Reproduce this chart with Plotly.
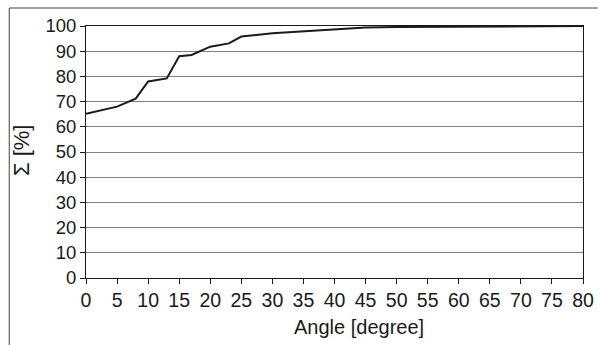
import plotly.graph_objects as go

angle = [0, 5, 8, 10, 13, 15, 17, 18.3, 20, 23, 25, 30, 35, 40, 45, 50, 55, 60, 65, 70, 75, 80]
cum_pct = [65.2, 68, 71.2, 78, 79.2, 88, 88.5, 89.8, 91.8, 93.1, 95.8, 97.1, 97.9, 98.7, 99.4, 99.6, 99.7, 99.8, 99.9, 100, 100, 100]
x_ticks = list(range(0, 81, 5))
y_ticks = list(range(0, 101, 10))

W, H = 606, 345
L, R, T, B = 86, 15, 26, 67
pw, ph = W - L - R, H - T - B

def px(x):
    return (x - L) / pw

def py(y):
    return (H - B - y) / ph

fam = "Liberation Sans, Arial, sans-serif"
col = "#1a1a1a"
xfont = dict(family=fam, size=19.5, color=col)
yfont = dict(family=fam, size=18.5, color=col)
tfont = dict(family=fam, size=20, color=col)
ytfont = dict(family=fam, size=22, color=col)

fig = go.Figure(go.Scatter(x=angle, y=cum_pct, mode="lines",
                           line=dict(color=col, width=2)))

fig.update_layout(
    width=W, height=H, margin=dict(l=L, r=R, t=T, b=B),
    paper_bgcolor="white", plot_bgcolor="white", showlegend=False,
    font=tfont,
    xaxis=dict(range=[0, 80], tickvals=x_ticks, showgrid=False, zeroline=False,
               showline=True, linecolor=col, linewidth=1, mirror=True,
               ticks="outside", ticklen=5, tickcolor=col, tickfont=xfont),
    yaxis=dict(range=[0, 100], tickvals=y_ticks, showgrid=True, gridcolor="#808080",
               gridwidth=1, zeroline=False,
               showline=True, linecolor=col, linewidth=1, mirror=True,
               ticks="outside", ticklen=5, tickcolor=col, tickfont=yfont),
    annotations=[
        dict(text="Angle [degree]", xref="paper", yref="paper", x=px(363), y=py(327),
             showarrow=False, font=tfont, xanchor="center", yanchor="middle"),
        dict(text="Σ [%]", xref="paper", yref="paper", x=px(20), y=py(150),
             showarrow=False, font=ytfont, textangle=-90, xanchor="center", yanchor="middle"),
    ],
    shapes=[
        dict(type="line", xref="paper", yref="paper", x0=px(8), x1=px(606), y0=py(8), y1=py(8),
             line=dict(color="#404040", width=1)),
        dict(type="line", xref="paper", yref="paper", x0=px(8), x1=px(8), y0=py(8), y1=py(345),
             line=dict(color="#404040", width=1)),
    ],
)

fig.write_html("out.html")
